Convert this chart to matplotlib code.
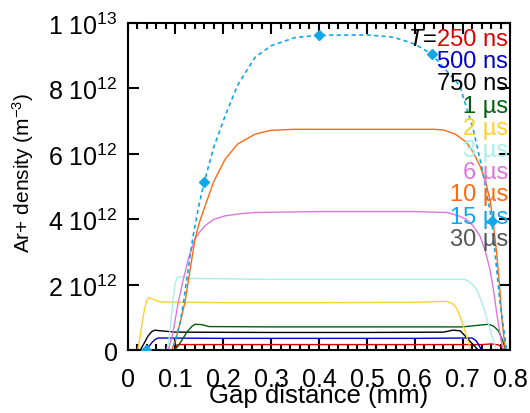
import numpy as np
import matplotlib
matplotlib.use("Agg")
import matplotlib.pyplot as plt
from matplotlib.ticker import MultipleLocator, FixedLocator, FixedFormatter

plt.rcParams["font.family"] = ["Liberation Sans", "DejaVu Sans"]
plt.rcParams["mathtext.fontset"] = "custom"
plt.rcParams["mathtext.rm"] = "Liberation Sans"
plt.rcParams["mathtext.it"] = "Liberation Sans:italic"

# ---------------------------------------------------------------
# Data (x in mm, density in 1e12 m^-3)
# ---------------------------------------------------------------
x_250ns = [0.099, 0.103, 0.11, 0.2, 0.4, 0.6, 0.74, 0.76, 0.775, 0.783, 0.787]
y_250ns = [0, 0.17, 0.18, 0.18, 0.18, 0.18, 0.18, 0.2, 0.17, 0.08, 0]

x_500ns = [0.037, 0.045, 0.052, 0.058, 0.064, 0.08, 0.2, 0.4, 0.6, 0.7, 0.72,
           0.728, 0.733, 0.737, 0.74]
y_500ns = [0, 0.13, 0.26, 0.34, 0.38, 0.38, 0.37, 0.37, 0.37, 0.38, 0.38,
           0.3, 0.19, 0.08, 0]

x_750ns = [0.026, 0.034, 0.042, 0.05, 0.057, 0.07, 0.1, 0.3, 0.5, 0.66, 0.68,
           0.695, 0.708, 0.718, 0.726, 0.733]
y_750ns = [0, 0.2, 0.42, 0.57, 0.62, 0.6, 0.56, 0.55, 0.55, 0.56, 0.62,
           0.6, 0.4, 0.24, 0.12, 0]

x_1us = [0.096, 0.105, 0.115, 0.125, 0.135, 0.141, 0.155, 0.17, 0.3, 0.5, 0.7,
         0.74, 0.754, 0.765, 0.775, 0.785, 0.79]
y_1us = [0, 0.12, 0.35, 0.58, 0.74, 0.8, 0.79, 0.73, 0.72, 0.72, 0.72,
         0.78, 0.8, 0.74, 0.6, 0.24, 0]

x_2us = [0.021, 0.026, 0.031, 0.036, 0.04, 0.0435, 0.05, 0.06, 0.071, 0.2, 0.4,
         0.6, 0.667, 0.681, 0.688, 0.694, 0.701, 0.708, 0.713, 0.717]
y_2us = [0, 0.4, 0.9, 1.3, 1.52, 1.6, 1.58, 1.52, 1.48, 1.46, 1.46,
         1.47, 1.5, 1.41, 1.27, 1.06, 0.78, 0.45, 0.2, 0]

x_3us = [0.082, 0.087, 0.091, 0.095, 0.099, 0.103, 0.11, 0.13, 0.3, 0.5, 0.7,
         0.708, 0.718, 0.729, 0.738, 0.747, 0.754, 0.761, 0.767, 0.771]
y_3us = [0, 0.4, 0.95, 1.55, 2.0, 2.22, 2.25, 2.2, 2.17, 2.17, 2.17,
         2.15, 2.05, 1.87, 1.55, 1.16, 0.8, 0.45, 0.18, 0]

x_6us = [0.085, 0.095, 0.106, 0.117, 0.127, 0.134, 0.141, 0.15, 0.162, 0.18,
         0.204, 0.24, 0.266, 0.4, 0.6, 0.667, 0.69, 0.708, 0.722, 0.736, 0.747,
         0.757, 0.765, 0.771, 0.777, 0.782, 0.785]
y_6us = [0, 0.55, 1.47, 2.2, 2.79, 3.12, 3.4, 3.6, 3.81, 4.0,
         4.11, 4.18, 4.21, 4.24, 4.24, 4.21, 4.12, 4.0, 3.8, 3.5, 3.05,
         2.48, 1.8, 1.16, 0.6, 0.19, 0]

x_10us = [0.092, 0.1, 0.11, 0.12, 0.13, 0.141, 0.15, 0.162, 0.18, 0.204, 0.23,
          0.266, 0.3, 0.35, 0.5, 0.64, 0.66, 0.685, 0.708, 0.722, 0.736, 0.747,
          0.757, 0.764, 0.771, 0.777, 0.782, 0.787, 0.79]
y_10us = [0, 0.3, 0.85, 1.47, 2.4, 3.4, 3.9, 4.41, 5.15, 5.84, 6.3,
          6.6, 6.72, 6.75, 6.75, 6.75, 6.73, 6.6, 6.35, 6.05, 5.64, 5.2,
          4.62, 3.9, 2.99, 2.0, 0.96, 0.3, 0]

x_15us = [0.038, 0.092, 0.1, 0.11, 0.117, 0.127, 0.137, 0.148, 0.160, 0.18,
          0.204, 0.23, 0.266, 0.3, 0.35, 0.401, 0.5, 0.55, 0.569, 0.6, 0.635,
          0.694, 0.722, 0.74, 0.761, 0.778, 0.792]
y_15us = [0, 0, 0.3, 0.85, 1.47, 2.5, 3.5, 4.35, 5.13, 6.2,
          7.16, 8.1, 8.94, 9.3, 9.55, 9.62, 9.63, 9.57, 9.5, 9.35, 9.05,
          8.08, 6.76, 5.6, 3.96, 1.47, 0]
marks_15us = [0, 8, 15, 20, 24]

labels = ["250 ns", "500 ns", "750 ns", "1 µs", "2 µs", "3 µs", "6 µs",
          "10 µs", "15 µs", "30 µs"]
colors = ["#e00000", "#0000d0", "#000000", "#006010", "#ffd030", "#a8eeee",
          "#dd77dd", "#ff6a10", "#10a8e8", "#555555"]

xticks = [0, 0.1, 0.2, 0.3, 0.4, 0.5, 0.6, 0.7, 0.8]
xtick_labels = ["0", "0.1", "0.2", "0.3", "0.4", "0.5", "0.6", "0.7", "0.8"]
yticks = [0, 2e12, 4e12, 6e12, 8e12, 1e13]
ytick_labels = ["0", "2 10$^{12}$", "4 10$^{12}$", "6 10$^{12}$",
                "8 10$^{12}$", "1 10$^{13}$"]

# ---------------------------------------------------------------
# Plot
# ---------------------------------------------------------------
fig = plt.figure(figsize=(5.3, 4.14), dpi=100)
ax = fig.add_axes([0.2406, 0.151, 0.7226, 0.7915])

solid = [(x_250ns, y_250ns), (x_500ns, y_500ns), (x_750ns, y_750ns),
         (x_1us, y_1us), (x_2us, y_2us), (x_3us, y_3us), (x_6us, y_6us),
         (x_10us, y_10us)]
for (xs, ys), c in zip(solid, colors):
    ax.plot(xs, np.array(ys) * 1e12, color=c, lw=1.0)

ax.plot(x_15us, np.array(y_15us) * 1e12, color=colors[8], lw=1.2,
        ls=(0, (2.5, 2)), marker="D", ms=5, markevery=marks_15us, zorder=3)

ax.set_xlim(0, 0.8)
ax.set_ylim(0, 1e13)

ax.xaxis.set_major_locator(FixedLocator(xticks))
ax.xaxis.set_major_formatter(FixedFormatter(xtick_labels))
ax.xaxis.set_minor_locator(MultipleLocator(0.02))
ax.yaxis.set_major_locator(FixedLocator(yticks))
ax.yaxis.set_major_formatter(FixedFormatter(ytick_labels))

ax.tick_params(which="both", direction="in", top=True, right=True, width=1.5,
               labelsize=18)
ax.tick_params(which="major", length=8)
ax.tick_params(which="minor", length=4)
ax.tick_params(axis="x", pad=12)
ax.tick_params(axis="y", pad=7)
for s in ax.spines.values():
    s.set_linewidth(1.5)

ax.set_xlabel("Gap distance (mm)", fontsize=18.5, labelpad=-6)
ax.set_ylabel("Ar+ density (m$^{-3}$)", fontsize=15)
ax.yaxis.set_label_coords(-0.24, 0.545)

# time labels stacked at the right edge
fig.canvas.draw()
renderer = fig.canvas.get_renderer()
x_right = 0.9935
top_base = 46
step = 22.2
for i, (lab, c) in enumerate(zip(labels, colors)):
    ypix = top_base + i * step
    yax = (351.5 - ypix) / 327.7
    t = ax.text(x_right, yax, lab, color=c, fontsize=17, ha="right",
                va="baseline", transform=ax.transAxes)
    if i == 0:
        bb = t.get_window_extent(renderer)
        x_left = ax.transAxes.inverted().transform((bb.x0, 0))[0]
        ax.text(x_left, yax, "$T$=", color="black", fontsize=17, ha="right",
                va="baseline", transform=ax.transAxes)

fig.savefig("out.png", dpi=100)
